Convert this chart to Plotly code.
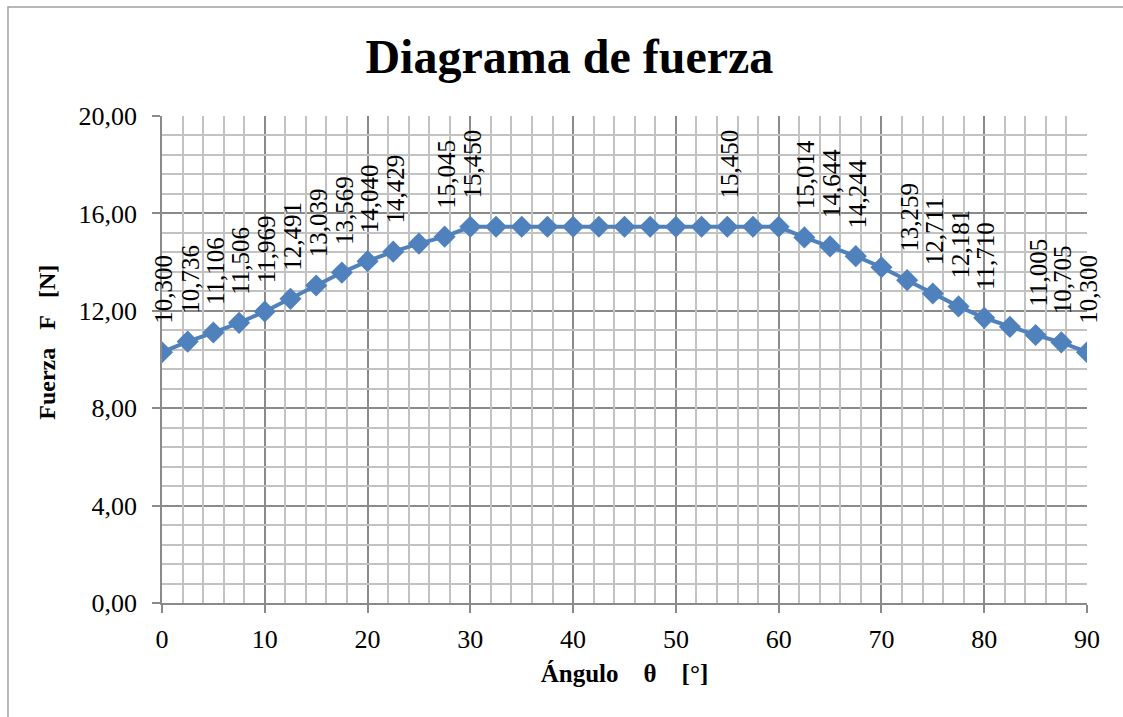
import plotly.graph_objects as go

# Ángulo θ [°] cada 2,5°
angulo = [0, 2.5, 5, 7.5, 10, 12.5, 15, 17.5, 20, 22.5, 25, 27.5, 30, 32.5, 35, 37.5,
          40, 42.5, 45, 47.5, 50, 52.5, 55, 57.5, 60, 62.5, 65, 67.5, 70, 72.5, 75,
          77.5, 80, 82.5, 85, 87.5, 90]
# Fuerza F [N]
fuerza = [10.300, 10.736, 11.106, 11.506, 11.969, 12.491, 13.039, 13.569, 14.040,
          14.429, 14.760, 15.045, 15.450, 15.450, 15.450, 15.450, 15.450, 15.450,
          15.450, 15.450, 15.450, 15.450, 15.450, 15.450, 15.450, 15.014, 14.644,
          14.244, 13.790, 13.259, 12.711, 12.181, 11.710, 11.340, 11.005, 10.705,
          10.300]
# Puntos que llevan etiqueta de valor
etiquetados = [0, 2.5, 5, 7.5, 10, 12.5, 15, 17.5, 20, 22.5, 27.5, 30, 55, 62.5, 65,
               67.5, 72.5, 75, 77.5, 80, 85, 87.5, 90]

AZUL = "#4F81BD"
GRIS = "#8a8a8a"
GRIS_CLARO = "#c2c2c2"
SERIF = "Liberation Serif"

# Líneas secundarias de la cuadrícula (cada 2° y cada 0,8 N), sin repetir las principales
rejilla_x = [v for v in range(0, 91, 2) if v % 10]
rejilla_y = [round(k * 0.8, 1) for k in range(26) if k % 5]

fig = go.Figure()
fig.add_trace(go.Scatter(
    x=angulo, y=fuerza, mode="lines+markers",
    line=dict(color=AZUL, width=4),
    marker=dict(symbol="diamond", size=17, color=AZUL),
    showlegend=False, hoverinfo="skip",
))

# Etiquetas verticales con el valor de cada punto
for a, f in zip(angulo, fuerza):
    if a in etiquetados:
        fig.add_annotation(
            x=a, y=f, xref="x", yref="y",
            text=f"{f:.3f}".replace(".", ","),
            textangle=-90, showarrow=False,
            xanchor="center", yanchor="bottom", yshift=26, xshift=2,
            font=dict(family=SERIF, size=25, color="black"),
        )

# Título del eje vertical
fig.add_annotation(
    x=-0.124, y=0.535, xref="paper", yref="paper",
    text="Fuerza   F   [N]", textangle=-90, showarrow=False,
    xanchor="center", yanchor="middle",
    font=dict(family=SERIF, size=24, color="black", weight="bold"),
)

# Marco exterior del gráfico
fig.add_shape(
    type="rect", xref="paper", yref="paper",
    x0=-0.1665, x1=1.06, y0=-0.35, y1=1.2238,
    line=dict(color="#a0a0a0", width=1.5), fillcolor="rgba(0,0,0,0)", layer="below",
)

fig.update_layout(
    width=1123, height=717,
    margin=dict(l=162, r=36, t=116, b=114),
    paper_bgcolor="white", plot_bgcolor="white",
    separators=",.",
    title=dict(
        text="Diagrama de fuerza", x=0.507, xanchor="center", y=0.921, yanchor="middle",
        font=dict(family=SERIF, size=48, color="black", weight="bold"),
    ),
    xaxis=dict(
        range=[0, 90], tickmode="linear", tick0=0, dtick=10,
        ticks="outside", ticklen=8, tickcolor=GRIS, tickwidth=1.5, ticklabelstandoff=4,
        showline=True, linecolor=GRIS, linewidth=1.5,
        showgrid=True, gridcolor=GRIS, gridwidth=1.5,
        tickfont=dict(family=SERIF, size=26, color="black"),
        title=dict(text="Ángulo    θ    [°]", standoff=12,
                   font=dict(family=SERIF, size=25, color="black", weight="bold")),
        zeroline=False, fixedrange=True,
    ),
    yaxis=dict(
        range=[0, 20], tickmode="linear", tick0=0, dtick=4, tickformat=".2f",
        ticks="outside", ticklen=8, tickcolor=GRIS, tickwidth=1.5, ticklabelstandoff=10,
        showline=True, linecolor=GRIS, linewidth=1.5,
        showgrid=True, gridcolor=GRIS, gridwidth=1.5,
        tickfont=dict(family=SERIF, size=26, color="black"),
        zeroline=False, fixedrange=True,
    ),
    # Ejes superpuestos que sólo dibujan la cuadrícula secundaria
    xaxis2=dict(
        overlaying="x", matches="x", range=[0, 90], tickmode="array", tickvals=rejilla_x,
        showticklabels=False, ticks="", showline=False, showgrid=True,
        gridcolor=GRIS_CLARO, gridwidth=1.5, zeroline=False, fixedrange=True,
    ),
    yaxis2=dict(
        overlaying="y", matches="y", range=[0, 20], tickmode="array", tickvals=rejilla_y,
        showticklabels=False, ticks="", showline=False, showgrid=True,
        gridcolor=GRIS_CLARO, gridwidth=1.5, zeroline=False, fixedrange=True,
    ),
)

# Traza invisible que activa los ejes de la cuadrícula secundaria
fig.add_trace(go.Scatter(
    x=[angulo[0]], y=[fuerza[0]], xaxis="x2", yaxis="y2", mode="markers",
    marker=dict(opacity=0), showlegend=False, hoverinfo="skip",
))

fig.write_html("out.html")
